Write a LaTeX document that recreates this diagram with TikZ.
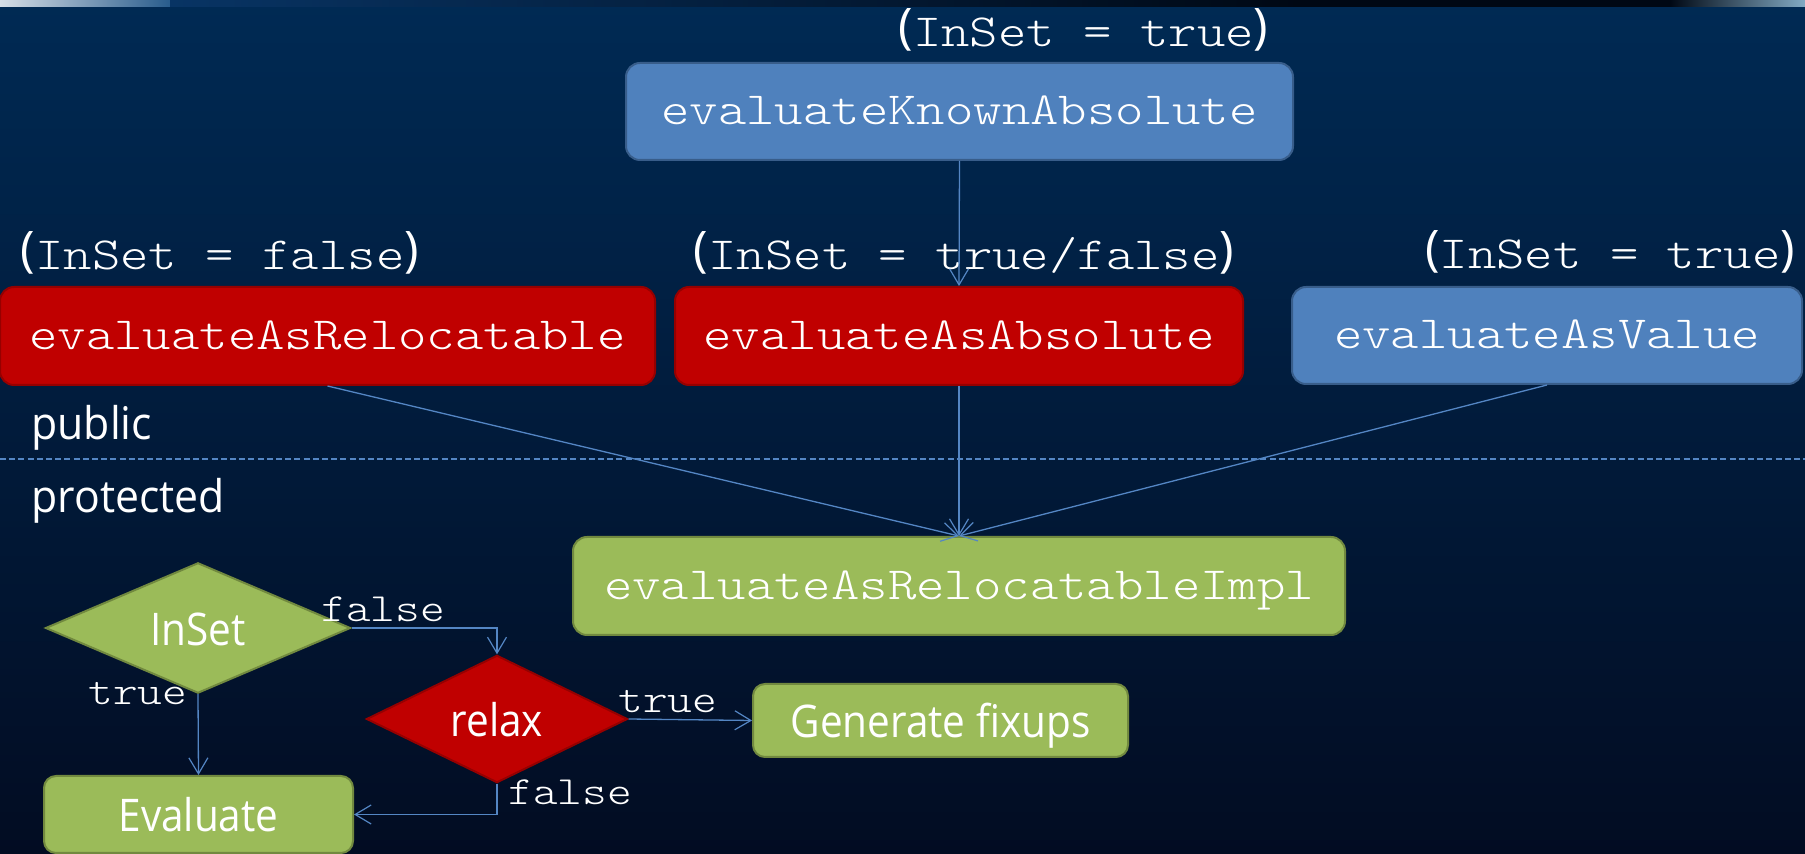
\documentclass[tikz,border=0pt]{standalone}
\usepackage{fontspec}
\setmonofont{lmmonolt10-regular.otf}[FakeStretch=1.176]
\newfontfamily\labelsans{Open Sans}[FakeStretch=0.9]
\newfontfamily\widesans{Open Sans}[FakeStretch=0.95]
\newfontfamily\parensans{Open Sans}
\usetikzlibrary{arrows.meta,shapes.geometric}

\definecolor{bgtop}{RGB}{0,42,84}
\definecolor{bgmid}{RGB}{1,28,60}
\definecolor{bgbot}{RGB}{2,12,34}
\definecolor{stripwhite}{RGB}{214,222,230}
\definecolor{stripblue}{RGB}{40,92,140}
\definecolor{stripnavy}{RGB}{8,52,100}
\definecolor{stripdark}{RGB}{0,8,20}
\definecolor{stripcyan}{RGB}{130,170,196}
\definecolor{redfill}{RGB}{192,0,0}
\definecolor{redline}{RGB}{150,0,0}
\definecolor{bluefill}{RGB}{79,129,189}
\definecolor{blueline}{RGB}{56,93,138}
\definecolor{greenfill}{RGB}{155,187,89}
\definecolor{greenline}{RGB}{113,137,63}
\definecolor{wire}{RGB}{84,134,196}

% taller sans parentheses around monospaced text
\newcommand\parenlbl[1]{\raisebox{1.5pt}{\fontsize{24.5}{28}\selectfont\parensans(}#1\raisebox{1.5pt}{\fontsize{24.5}{28}\selectfont\parensans)}}

\tikzset{
  codebox/.style={rounded corners=7pt, line width=1pt, text=white, inner sep=0pt,
    font=\fontsize{23}{28}\selectfont\ttfamily, text height=18pt, text depth=4.7pt},
  redbox/.style={codebox, fill=redfill, draw=redline},
  bluebox/.style={codebox, fill=bluefill, draw=blueline},
  greenbox/.style={codebox, fill=greenfill, draw=greenline},
  stepbox/.style={rounded corners=6pt, line width=1pt, fill=greenfill, draw=greenline,
    text=white, inner sep=0pt, font=\fontsize{22.5}{27}\selectfont\labelsans,
    text height=17.5pt, text depth=0pt},
  decision/.style={diamond, line width=1pt, text=white, inner sep=0pt,
    font=\fontsize{22.5}{27}\selectfont\labelsans, text height=17.5pt, text depth=0pt},
  plabel/.style={inner sep=0pt, text=white, font=\fontsize{23}{28}\selectfont\ttfamily, anchor=base},
  flabel/.style={inner sep=0pt, text=white, font=\fontsize{20}{25}\selectfont\ttfamily, anchor=base west},
  seclabel/.style={inner sep=0pt, text=white, font=\fontsize{22.5}{27}\selectfont\widesans, anchor=base west},
  conn/.style={draw=wire, line width=0.65pt,
    -{Straight Barb[length=8pt,width=9.5pt,line width=0.6pt]}},
}

\begin{document}
\begin{tikzpicture}[x=0.5pt,y=-0.5pt]
  \useasboundingbox (0,0) rectangle (1805,854);
  % backdrop
  \shade[top color=bgtop, middle color=bgmid, bottom color=bgbot] (0,0) rectangle (1805,854);
  % header strip
  \shade[left color=stripwhite, right color=stripblue] (0,0) rectangle (170,7);
  \shade[left color=stripnavy, right color=stripdark] (170,0) rectangle (1300,7);
  \fill[stripdark] (1300,0) rectangle (1670,7);
  \shade[left color=stripdark, right color=stripcyan] (1670,0) rectangle (1805,7);

  % public / protected divider
  \coordinate (divl) at (0,459);
  \coordinate (divr) at (1805,459);
  \draw[wire, line width=0.75pt, dash pattern=on 3pt off 1.6pt] (divl) -- (divr);
  \node[seclabel] (public) at (31,440) {public};
  \node[seclabel] (protected) at (31,513) {protected};

  % call conditions
  \node[plabel] (condka) at (1083.5,47) {\parenlbl{InSet = true}};
  \node[plabel] (condrel) at (220,270) {\parenlbl{InSet = false}};
  \node[plabel] (condabs) at (964,270) {\parenlbl{InSet = true/false}};
  \node[plabel] (condval) at (1610,269) {\parenlbl{InSet = true}};

  % methods
  \node[bluebox, minimum width=333.5pt, minimum height=48.5pt] (ka) at (959.5,111.5) {evaluateKnownAbsolute};
  \node[redbox, minimum width=327.5pt, minimum height=49pt] (reloc) at (327.5,336) {evaluateAsRelocatable};
  \node[redbox, minimum width=284pt, minimum height=49pt] (abs) at (959,336) {evaluateAsAbsolute};
  \node[bluebox, minimum width=255pt, minimum height=48.5pt] (val) at (1547,335.5) {evaluateAsValue};
  \node[greenbox, minimum width=386pt, minimum height=49pt] (impl) at (959,586) {evaluateAsRelocatableImpl};

  \draw[conn] (ka.south) -- (abs.north);
  \draw[conn] (reloc.south) -- (impl.north);
  \draw[conn] (abs.south) -- (impl.north);
  \draw[conn] (val.south) -- (impl.north);

  % flow inside the implementation
  \node[decision, fill=greenfill, draw=greenline, minimum width=152.5pt, minimum height=46pt] (inset) at (198,628) {InSet};
  \node[decision, fill=redfill, draw=redline, minimum width=130.5pt, minimum height=52pt] (relax) at (497,719) {relax};
  \node[stepbox, minimum width=187.5pt, minimum height=36.5pt] (gen) at (940.5,720.5) {Generate fixups};
  \node[stepbox, minimum width=154.5pt, minimum height=38.5pt] (eval) at (198.5,814.5) {Evaluate};

  \draw[conn] (inset.east) -| (relax.north);
  \draw[conn] (inset.south) -- (eval.north);
  \draw[conn] (relax.east) -- (gen.west);
  \draw[conn] (relax.south) |- (eval.east);

  \node[flabel] (lfalse1) at (321,622) {false};
  \node[flabel] (ltrue1) at (88,705) {true};
  \node[flabel] (ltrue2) at (618,713) {true};
  \node[flabel] (lfalse2) at (508,805) {false};
\end{tikzpicture}
\end{document}
